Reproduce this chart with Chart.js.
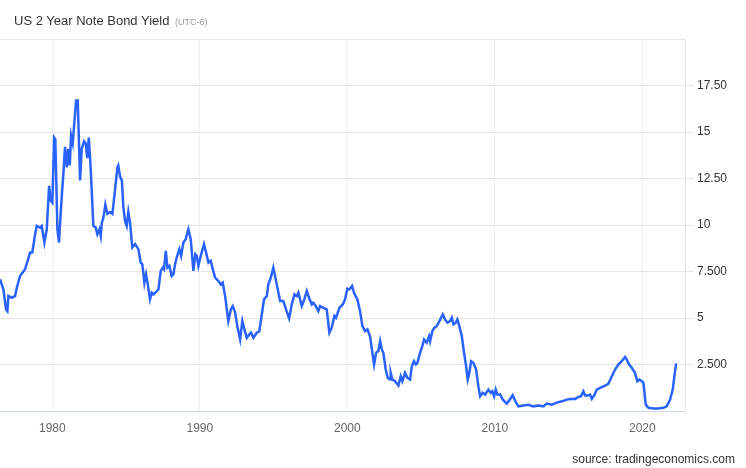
<!DOCTYPE html>
<html>
<head>
<meta charset="utf-8">
<script src="https://cdn.jsdelivr.net/npm/chart.js@4/dist/chart.umd.min.js"></script>
<style>
    body { margin: 0; background: #fff; font-family: "Liberation Sans", Arial, sans-serif; }
    #wrap { position: relative; width: 746px; height: 468px; }
    #title { position: absolute; left: 14px; top: 14px; font-size: 13px; line-height: 13px; color: #333; white-space: nowrap; }
    #title span { font-size: 9px; color: #999; margin-left: 2px; }
    #source { position: absolute; right: 11px; top: 453px; font-size: 12px; line-height: 12px; color: #333; }
</style>
</head>
<body>
<div id="wrap">
    <canvas id="bond-yield" width="746" height="468"></canvas>
    <div id="title">US 2 Year Note Bond Yield <span>(UTC-6)</span></div>
    <div id="source">source: tradingeconomics.com</div>
</div>
<script>
/************** data ****************/
const years = [
    1976.45, 1976.68, 1976.86, 1976.95, 1977.02, 1977.25, 1977.47, 1977.59, 1977.81, 1978.15,
    1978.49, 1978.64, 1978.83, 1978.94, 1979.17, 1979.28, 1979.46, 1979.62, 1979.78, 1979.89,
    1980.00, 1980.12, 1980.20, 1980.34, 1980.45, 1980.59, 1980.75, 1980.86, 1980.98, 1981.08,
    1981.18, 1981.27, 1981.38, 1981.47, 1981.61, 1981.72, 1981.88, 1981.99, 1982.15, 1982.26,
    1982.37, 1982.47, 1982.60, 1982.78, 1982.94, 1983.05, 1983.19, 1983.28, 1983.35, 1983.46,
    1983.59, 1983.73, 1983.91, 1984.07, 1984.25, 1984.41, 1984.47, 1984.59, 1984.71, 1984.81,
    1984.93, 1985.04, 1985.15, 1985.27, 1985.42, 1985.61, 1985.83, 1985.99, 1986.10, 1986.24,
    1986.35, 1986.47, 1986.62, 1986.74, 1986.85, 1987.08, 1987.19, 1987.35, 1987.49, 1987.57,
    1987.69, 1987.80, 1987.93, 1988.09, 1988.20, 1988.32, 1988.43, 1988.61, 1988.73, 1988.88,
    1989.04, 1989.22, 1989.38, 1989.56, 1989.69, 1989.79, 1989.90, 1990.06, 1990.28, 1990.42,
    1990.58, 1990.74, 1990.85, 1991.03, 1991.25, 1991.42, 1991.55, 1991.71, 1991.93, 1992.10,
    1992.23, 1992.39, 1992.54, 1992.73, 1992.88, 1993.02, 1993.18, 1993.36, 1993.47, 1993.63,
    1993.86, 1994.03, 1994.20, 1994.35, 1994.54, 1994.64, 1994.81, 1994.98, 1995.21, 1995.44,
    1995.66, 1995.84, 1996.05, 1996.23, 1996.41, 1996.57, 1996.68, 1996.91, 1997.08, 1997.25,
    1997.40, 1997.59, 1997.69, 1997.86, 1998.03, 1998.15, 1998.37, 1998.60, 1998.78, 1998.94,
    1999.12, 1999.23, 1999.46, 1999.69, 1999.84, 2000.00, 2000.14, 2000.32, 2000.45, 2000.68,
    2000.86, 2001.02, 2001.20, 2001.36, 2001.54, 2001.81, 2001.95, 2002.10, 2002.22, 2002.33,
    2002.44, 2002.60, 2002.74, 2002.90, 2002.94, 2003.05, 2003.23, 2003.46, 2003.62, 2003.73,
    2003.91, 2004.07, 2004.25, 2004.37, 2004.52, 2004.64, 2004.75, 2004.93, 2005.08, 2005.20,
    2005.38, 2005.54, 2005.61, 2005.76, 2005.90, 2006.06, 2006.24, 2006.47, 2006.62, 2006.78,
    2006.96, 2007.08, 2007.19, 2007.35, 2007.46, 2007.59, 2007.76, 2007.91, 2008.05, 2008.16,
    2008.25, 2008.39, 2008.54, 2008.73, 2008.88, 2009.00, 2009.18, 2009.34, 2009.56, 2009.72,
    2009.83, 2009.95, 2010.06, 2010.17, 2010.35, 2010.54, 2010.81, 2011.03, 2011.21, 2011.37,
    2011.59, 2011.93, 2012.27, 2012.61, 2012.95, 2013.29, 2013.52, 2013.86, 2014.20, 2014.54,
    2014.87, 2015.10, 2015.44, 2015.66, 2015.84, 2016.00, 2016.12, 2016.27, 2016.45, 2016.57,
    2016.73, 2016.91, 2017.13, 2017.47, 2017.69, 2017.93, 2018.15, 2018.37, 2018.60, 2018.83,
    2018.94, 2019.10, 2019.28, 2019.50, 2019.66, 2019.80, 2019.96, 2020.07, 2020.23, 2020.41,
    2020.75, 2021.08, 2021.42, 2021.65, 2021.88, 2022.06, 2022.17, 2022.28, 2022.35
];
const yields = [
    7.08, 6.54, 5.46, 5.37, 6.18, 6.09, 6.18, 6.63, 7.26, 7.62,
    8.52, 8.52, 9.50, 9.95, 9.86, 9.95, 9.06, 9.77, 12.10, 11.30,
    11.20, 14.70, 14.60, 9.77, 9.06, 11.00, 12.80, 14.20, 13.10, 14.10,
    13.20, 14.80, 14.40, 15.30, 16.70, 16.70, 12.40, 14.10, 14.50, 14.40,
    13.60, 14.70, 13.00, 9.95, 9.86, 9.50, 9.77, 9.41, 10.10, 10.40,
    11.10, 10.60, 10.70, 10.60, 11.90, 13.10, 13.20, 12.60, 12.40, 11.00,
    10.20, 9.95, 10.70, 10.10, 8.79, 8.97, 8.70, 7.98, 7.89, 6.90,
    7.35, 6.81, 6.00, 6.36, 6.27, 6.45, 6.54, 7.53, 7.71, 7.62,
    8.61, 7.71, 7.80, 7.26, 7.35, 7.89, 8.25, 8.70, 8.34, 9.06,
    9.24, 9.77, 9.24, 7.53, 8.43, 8.34, 7.80, 8.34, 8.97, 8.52,
    7.98, 8.07, 7.71, 7.17, 6.99, 6.81, 6.90, 6.18, 4.83, 5.46,
    5.64, 5.29, 4.56, 3.85, 4.83, 4.39, 3.94, 4.12, 4.21, 3.94,
    4.21, 4.29, 5.19, 6.00, 6.18, 6.81, 7.17, 7.71, 6.81, 5.91,
    5.91, 5.46, 4.98, 5.73, 6.27, 6.18, 6.36, 5.64, 6.00, 6.45,
    6.09, 5.73, 5.82, 5.64, 5.37, 5.64, 5.55, 5.46, 4.21, 4.48,
    5.10, 5.01, 5.55, 5.73, 6.00, 6.58, 6.54, 6.72, 6.36, 6.00,
    5.37, 4.56, 4.29, 4.39, 4.00, 2.50, 3.13, 3.22, 3.76, 3.31,
    3.13, 2.23, 1.78, 1.69, 2.05, 1.69, 1.60, 1.37, 1.87, 1.60,
    2.05, 1.78, 1.69, 2.41, 2.68, 2.50, 2.59, 3.13, 3.49, 3.85,
    3.67, 4.02, 3.76, 4.29, 4.48, 4.56, 4.83, 5.19, 4.92, 4.75,
    4.83, 5.01, 4.66, 4.75, 4.92, 4.56, 4.02, 3.13, 2.41, 1.69,
    1.96, 2.68, 2.59, 2.23, 1.33, 0.79, 0.98, 0.88, 1.15, 0.98,
    1.06, 0.79, 1.15, 0.88, 0.90, 0.61, 0.40, 0.63, 0.85, 0.55,
    0.25, 0.29, 0.33, 0.25, 0.29, 0.25, 0.40, 0.34, 0.45, 0.52,
    0.61, 0.65, 0.65, 0.76, 0.79, 1.06, 0.83, 0.83, 0.88, 0.65,
    0.83, 1.15, 1.24, 1.37, 1.46, 1.87, 2.23, 2.50, 2.68, 2.91,
    2.77, 2.50, 2.32, 2.05, 1.60, 1.69, 1.60, 1.51, 0.34, 0.17,
    0.13, 0.13, 0.17, 0.25, 0.61, 1.15, 1.87, 2.50, 2.50
];
const xTicks = [1980, 1990, 2000, 2010, 2020];
const yTicks = [0, 2.5, 5, 7.5, 10, 12.5, 15, 17.5, 20];
const yTickLabels = ["", "2.500", "5", "7.500", "10", "12.50", "15", "17.50", ""];

/************** chart ****************/
const points = years.map((year, i) => ({ x: year, y: yields[i] }));

const config = {
    type: 'line',
    data: {
        datasets: [{
            label: 'US 2Y',
            data: points,
            borderColor: '#2962ff',
            borderWidth: 2.5,
            pointRadius: 0,
            tension: 0,
            fill: false
        }]
    },
    options: {
        responsive: false,
        animation: false,
        devicePixelRatio: 1,
        layout: { padding: { top: 39, left: 0, right: 0, bottom: 0 } },
        plugins: {
            legend: { display: false },
            tooltip: { enabled: false }
        },
        scales: {
            x: {
                type: 'linear',
                min: 1976.45,
                max: 2022.89,
                afterBuildTicks: axis => { axis.ticks = xTicks.map(v => ({ value: v })) },
                afterFit: axis => { axis.height = 57 },
                border: { color: '#ccd6eb' },
                grid: { color: '#edf1f6', drawTicks: false },
                ticks: {
                    padding: 10,
                    color: '#666',
                    font: { family: 'Liberation Sans', size: 12 },
                    maxRotation: 0,
                    callback: value => String(value)
                }
            },
            y: {
                position: 'right',
                min: 0,
                max: 20,
                afterBuildTicks: axis => { axis.ticks = yTicks.map(v => ({ value: v })) },
                afterFit: axis => { axis.width = 61 },
                border: { color: '#e6e6e6' },
                grid: {
                    color: ctx => ctx.tick && ctx.tick.value === 0 ? 'rgba(0,0,0,0)' : '#e6e6e6',
                    tickColor: ctx => ctx.tick && (ctx.tick.value === 0 || ctx.tick.value === 20) ? 'rgba(0,0,0,0)' : '#e6e6e6',
                    tickLength: 9
                },
                ticks: {
                    padding: 3,
                    color: '#333',
                    font: { family: 'Liberation Sans', size: 12 },
                    callback: (value, index) => yTickLabels[index]
                }
            }
        }
    }
};

const bondChart = new Chart(document.getElementById('bond-yield'), config);
</script>
</body>
</html>
